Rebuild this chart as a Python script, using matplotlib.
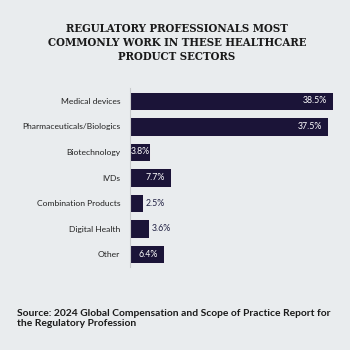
import matplotlib.pyplot as plt
import numpy as np

categorias = ["Medical devices", "Pharmaceuticals/Biologics", "Biotechnology", "IVDs",
              "Combination Products", "Digital Health", "Other"]
valores = [38.5, 37.5, 3.8, 7.7, 2.5, 3.6, 6.4]
etiquetas = ["38.5%", "37.5%", "3.8%", "7.7%", "2.5%", "3.6%", "6.4%"]
dentro = [True, True, True, True, False, False, True]

fondo = "#e9ecee"
barra = "#1b1438"

fig = plt.figure(figsize=(3.5, 3.5), dpi=100, facecolor=fondo)

fig.text(0.506, 1 - 42.5/350, "REGULATORY PROFESSIONALS MOST\nCOMMONLY WORK IN THESE HEALTHCARE\nPRODUCT SECTORS",
         ha="center", va="center", fontsize=8.2, fontweight="bold", family="DejaVu Serif",
         fontstretch="condensed", color="#1a1a1a", linespacing=1.38)

ax = fig.add_axes([130/350, 1 - 267/350, 211/350, 179/350])
ax.set_facecolor(fondo)
y = np.arange(len(categorias))
ax.barh(y, valores, height=0.72, color=barra, edgecolor="white", linewidth=0.6)
ax.set_xlim(0, 40)
ax.set_ylim(6.5, -0.5)
ax.set_yticks(y)
ax.set_yticklabels(categorias, family="Lato", fontsize=6.1, color="#222222")
ax.tick_params(axis="y", length=0, pad=7)
ax.set_xticks([])
for s in ["top", "right", "bottom"]:
    ax.spines[s].set_visible(False)
ax.spines["left"].set_color("#c8cacc")
ax.spines["left"].set_linewidth(0.8)

for i, (v, t, d) in enumerate(zip(valores, etiquetas, dentro)):
    if d:
        off = 1.1 if v > 5 else 0.05
        ax.text(v - off, i, t, ha="right", va="center", color="white",
                family="Lato", fontsize=6.3)
    else:
        ax.text(v + 0.45, i, t, ha="left", va="center", color="#222244",
                family="Lato", fontsize=6.3)

fig.text(17/350, 1 - 318.5/350, "Source: 2024 Global Compensation and Scope of Practice Report for\nthe Regulatory Profession",
         ha="left", va="center", fontsize=7.4, fontweight="bold", family="Lato",
         color="#1a1a1a", linespacing=1.25)

fig.savefig("out.png", dpi=100, facecolor=fondo)
